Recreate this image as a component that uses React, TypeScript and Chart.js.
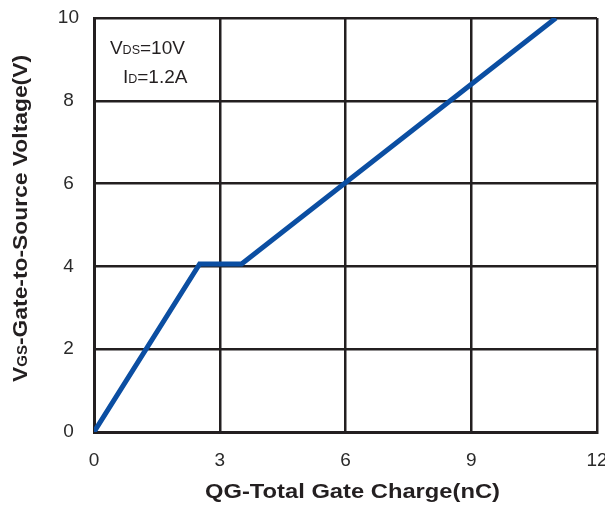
import React, { useEffect, useRef } from "react";
import { Chart, registerables } from "chart.js";

Chart.register(...registerables);

// Gate charge (nC) and gate-to-source voltage (V)
const gateCharge = [0, 2.52, 3.52, 11.02];
const gateVoltage = [0, 4.06, 4.06, 10];

const xTickValues = [0, 3, 6, 9, 12];
const yTickValues = [0, 2, 4, 6, 8, 10];

type Part = [string, number];
const xTitleParts: Part[] = [["QG-Total Gate Charge(nC)", 1]];
const yTitleParts: Part[] = [["V", 1], ["GS", 0.66], ["-Gate-to-Source Voltage(V)", 1]];
const noteLine1: Part[] = [["V", 1], ["DS", 0.66], ["=10V", 1]];
const noteLine2: Part[] = [["I", 1], ["D", 0.66], ["=1.2A", 1]];

const FONT = "'Liberation Sans', Arial, Helvetica, sans-serif";
const INK = "#231f20";
const BLUE = "#0b4ea2";

function drawParts(
  ctx: CanvasRenderingContext2D,
  parts: Part[],
  size: number,
  weight: string,
  targetWidth?: number
) {
  let total = 0;
  const widths: number[] = [];
  for (const [t, s] of parts) {
    ctx.font = `${weight} ${size * s}px ${FONT}`;
    const w = ctx.measureText(t).width;
    widths.push(w);
    total += w;
  }
  const k = targetWidth ? targetWidth / total : 1;
  ctx.save();
  ctx.scale(k, 1);
  let cx = 0;
  parts.forEach(([t, s], i) => {
    ctx.font = `${weight} ${size * s}px ${FONT}`;
    ctx.fillText(t, cx, 0);
    cx += widths[i];
  });
  ctx.restore();
}

const textPlugin = {
  id: "textPlugin",
  afterDraw(chart: any) {
    const ctx: CanvasRenderingContext2D = chart.ctx;
    const { chartArea } = chart;
    const xs = chart.scales.x;
    const ys = chart.scales.y;
    ctx.save();
    ctx.fillStyle = INK;
    ctx.textBaseline = "alphabetic";
    ctx.textAlign = "left";

    // annotation
    ctx.save();
    ctx.translate(xs.getPixelForValue(0.38), ys.getPixelForValue(9.13));
    drawParts(ctx, noteLine1, 19, "normal");
    ctx.restore();
    ctx.save();
    ctx.translate(xs.getPixelForValue(0.69), ys.getPixelForValue(8.43));
    drawParts(ctx, noteLine2, 19, "normal");
    ctx.restore();

    // x title
    ctx.save();
    ctx.translate(chartArea.left + 111, chartArea.bottom + 66);
    drawParts(ctx, xTitleParts, 21, "bold", 295);
    ctx.restore();

    // y title
    ctx.save();
    ctx.translate(chartArea.left - 67, chartArea.bottom - 50);
    ctx.rotate(-Math.PI / 2);
    drawParts(ctx, yTitleParts, 21, "bold", 327);
    ctx.restore();

    ctx.restore();
  },
};

export default function App() {
  const ref = useRef<HTMLCanvasElement>(null);
  useEffect(() => {
    if (!ref.current) return;
    const points = gateCharge.map((q, i) => ({ x: q, y: gateVoltage[i] }));
    const chart = new Chart(ref.current, {
      type: "line",
      data: {
        datasets: [
          {
            data: points,
            borderColor: BLUE,
            borderWidth: 5,
            pointRadius: 0,
            fill: false,
            tension: 0,
            borderCapStyle: "butt",
            borderJoinStyle: "miter",
          },
        ],
      },
      options: {
        animation: false,
        responsive: true,
        maintainAspectRatio: false,
        layout: { padding: { top: 18, right: 8, left: 0, bottom: 0 } },
        plugins: {
          legend: { display: false },
          tooltip: { enabled: false },
        },
        scales: {
          x: {
            type: "linear",
            min: 0,
            max: 12,
            afterBuildTicks: (s: any) => {
              s.ticks = xTickValues.map((v) => ({ value: v }));
            },
            afterFit: (s: any) => {
              s.height = 75;
              s.paddingLeft = 0;
              s.paddingRight = 0;
            },
            ticks: {
              color: "#2a2a2a",
              font: { family: FONT, size: 19 },
              padding: 17,
              maxRotation: 0,
            },
            grid: { color: INK, lineWidth: 2.5, drawTicks: false },
            border: { display: true, color: INK, width: 3 },
          },
          y: {
            type: "linear",
            min: 0,
            max: 10,
            afterBuildTicks: (s: any) => {
              s.ticks = yTickValues.map((v) => ({ value: v }));
            },
            afterFit: (s: any) => {
              s.width = 94;
              s.paddingTop = 0;
              s.paddingBottom = 0;
            },
            ticks: {
              color: "#2a2a2a",
              font: { family: FONT, size: 19 },
              padding: 15,
              crossAlign: "center",
            },
            grid: { color: INK, lineWidth: 2.5, drawTicks: false },
            border: { display: true, color: INK, width: 3 },
          },
        },
      },
      plugins: [textPlugin],
    });
    return () => chart.destroy();
  }, []);
  return (
    <div style={{ position: "fixed", left: 0, top: 0, width: 605, height: 507, background: "#fff" }}>
      <canvas ref={ref} />
    </div>
  );
}
